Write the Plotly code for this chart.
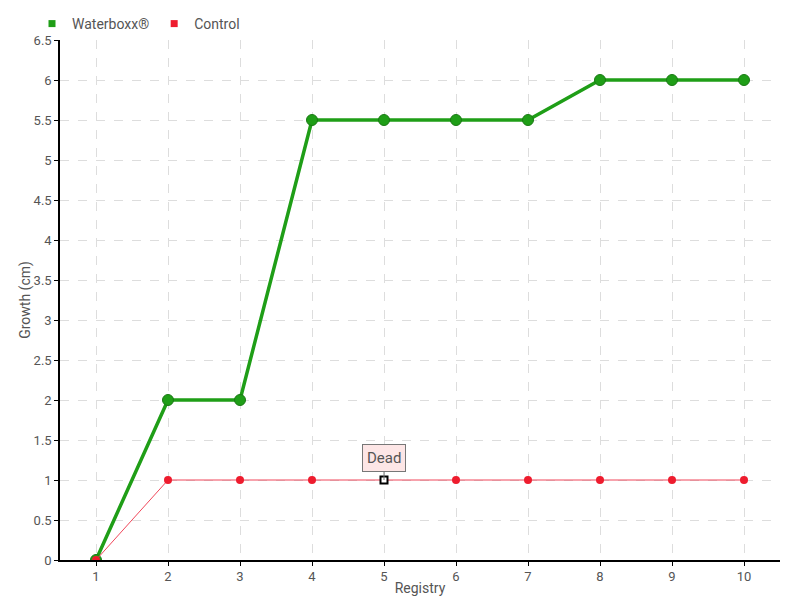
import plotly.graph_objects as go

registry = [1, 2, 3, 4, 5, 6, 7, 8, 9, 10]
waterboxx = [0, 2, 2, 5.5, 5.5, 5.5, 5.5, 6, 6, 6]
control = [0, 1, 1, 1, 1, 1, 1, 1, 1, 1]
y_ticks = [0, 0.5, 1, 1.5, 2, 2.5, 3, 3.5, 4, 4.5, 5, 5.5, 6, 6.5]
dead_x, dead_y = 5, 1

FONT = "Roboto, sans-serif"
GREEN = "#1f9e17"
RED = "#ee1c2e"

fig = go.Figure()
fig.add_trace(go.Scatter(
    x=registry, y=waterboxx, name="Waterboxx®", mode="lines+markers",
    line=dict(color=GREEN, width=3.5),
    marker=dict(color=GREEN, size=11, line=dict(color="#1a7a14", width=1)),
    showlegend=False,
))
fig.add_trace(go.Scatter(
    x=registry, y=control, name="Control", mode="lines+markers",
    line=dict(color="#f0475a", width=1),
    marker=dict(color=RED, size=8, symbol="circle"),
    showlegend=False,
))
fig.add_trace(go.Scatter(
    x=[dead_x], y=[dead_y], mode="markers", showlegend=False, hoverinfo="skip",
    marker=dict(color="white", size=7, symbol="square",
                line=dict(color="black", width=2)),
))
# legend entries (square swatches)
fig.add_trace(go.Scatter(x=[None], y=[None], name="Waterboxx®", mode="markers",
                         marker=dict(color=GREEN, size=7, symbol="square")))
fig.add_trace(go.Scatter(x=[None], y=[None], name="Control", mode="markers",
                         marker=dict(color=RED, size=7, symbol="square")))

fig.add_annotation(
    x=dead_x, y=dead_y, text="Dead", showarrow=True, arrowhead=0,
    arrowcolor="#777", arrowwidth=1, ax=0, ay=-8, yanchor="bottom",
    font=dict(family=FONT, size=15, color="#555"),
    bgcolor="#fde6e6", bordercolor="#777", borderwidth=1, borderpad=4,
)

fig.update_layout(
    width=800, height=600,
    margin=dict(l=52, r=28, t=32, b=48, autoexpand=False),
    paper_bgcolor="white", plot_bgcolor="white",
    font=dict(family=FONT, size=13, color="#555"),
    legend=dict(orientation="h", xref="container", yref="container",
                x=0.03, y=1.0, xanchor="left", yanchor="top",
                itemwidth=30, tracegroupgap=0, bgcolor="rgba(0,0,0,0)",
                font=dict(family=FONT, size=14, color="#555")),
    xaxis=dict(
        range=[0.5, 10.5], tickvals=registry, ticktext=[str(r) for r in registry],
        showline=True, linecolor="black", linewidth=1.5,
        ticks="outside", ticklen=4, tickcolor="black",
        showgrid=True, gridcolor="#dddddd", griddash="dash", zeroline=False,
        title=dict(text="Registry", standoff=0, font=dict(size=14)),
    ),
    yaxis=dict(
        range=[0, 6.5], tickvals=y_ticks, ticktext=[f"{v:g}" for v in y_ticks],
        showline=True, linecolor="black", linewidth=1.5,
        ticks="outside", ticklen=4, tickcolor="black",
        showgrid=True, gridcolor="#dddddd", griddash="dash", zeroline=False,
        title=dict(text="Growth (cm)", standoff=0, font=dict(size=14)),
    ),
)

fig.write_html("out.html")
